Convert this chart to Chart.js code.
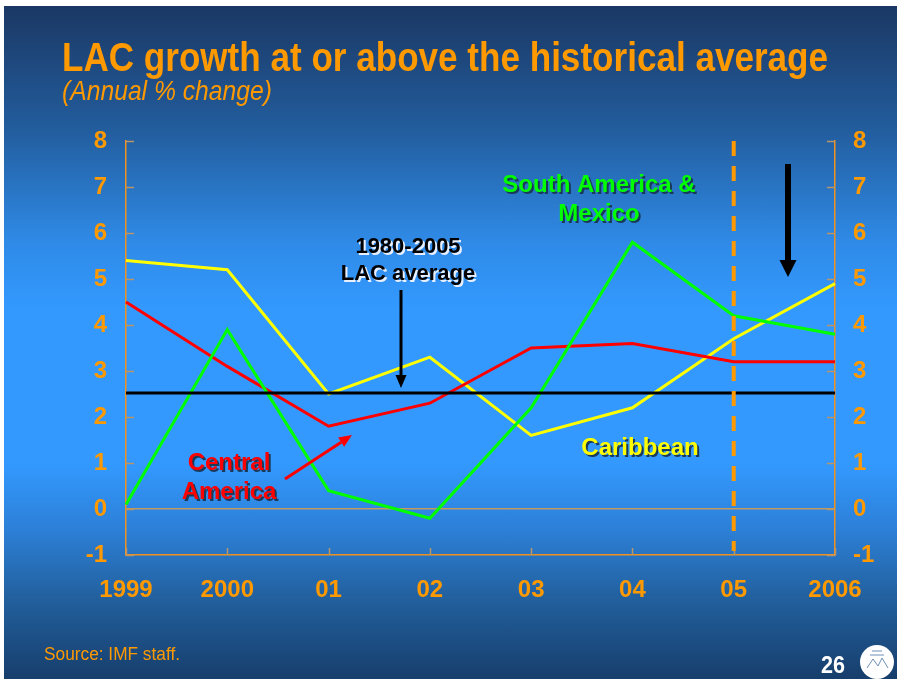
<!DOCTYPE html>
<html>
<head>
<meta charset="utf-8">
<script src="https://cdn.jsdelivr.net/npm/chart.js@4.4.1/dist/chart.umd.min.js"></script>
<style>
  html, body { margin: 0; padding: 0; background: #ffffff; }
  #slide {
    position: absolute; left: 4px; top: 6px; width: 893px; height: 673px;
    background: linear-gradient(to bottom,
      #1b3864 0%, #225c9c 18%, #2f8ae6 35%, #3399ff 45%,
      #3399ff 68%, #2c7fd6 78%, #22609e 88%, #173e6c 100%);
  }
  #wrap { position: absolute; left: 0; top: 0; width: 897px; height: 679px; }
</style>
</head>
<body>
<div id="slide"></div>
<div id="wrap"><canvas id="growthCanvas" width="897" height="679"></canvas></div>
<script>
// Annual % change by region
const years = ['1999', '2000', '01', '02', '03', '04', '05', '2006'];
const caribbean = [5.4, 5.2, 2.5, 3.3, 1.6, 2.2, 3.7, 4.9];
const centralAmerica = [4.5, 3.1, 1.8, 2.3, 3.5, 3.6, 3.2, 3.2];
const southAmericaMexico = [0.1, 3.9, 0.4, -0.2, 2.2, 5.8, 4.2, 3.8];
const lacAverage = [2.52, 2.52, 2.52, 2.52, 2.52, 2.52, 2.52, 2.52];
const yMin = -1;
const yMax = 8;
const forecastStart = '05';

const orange = '#ff9900';
const axisOrange = '#f0921e';
const tickColor = '#b9956a';
const sans = '"Liberation Sans", Arial, sans-serif';
const tickFont = { family: sans, size: 24, weight: 'bold' };

function drawArrow(ctx, x1, y1, x2, y2, color, width, headLen, headWidth) {
    const ang = Math.atan2(y2 - y1, x2 - x1);
    const bx = x2 - Math.cos(ang) * headLen;
    const by = y2 - Math.sin(ang) * headLen;
    ctx.save();
    ctx.strokeStyle = color;
    ctx.fillStyle = color;
    ctx.lineWidth = width;
    ctx.beginPath();
    ctx.moveTo(x1, y1);
    ctx.lineTo(bx, by);
    ctx.stroke();
    const nx = -Math.sin(ang) * headWidth / 2;
    const ny = Math.cos(ang) * headWidth / 2;
    ctx.beginPath();
    ctx.moveTo(x2, y2);
    ctx.lineTo(bx + nx, by + ny);
    ctx.lineTo(bx - nx, by - ny);
    ctx.closePath();
    ctx.fill();
    ctx.restore();
}

function drawLabel(ctx, lines, x, y, lineHeight, color, shadow, size) {
    ctx.save();
    ctx.font = 'bold ' + size + 'px ' + sans;
    ctx.textAlign = 'center';
    ctx.textBaseline = 'middle';
    lines.forEach((t, i) => {
        ctx.fillStyle = shadow;
        ctx.fillText(t, x + 2, y + i * lineHeight + 2);
        ctx.fillStyle = color;
        ctx.fillText(t, x, y + i * lineHeight);
    });
    ctx.restore();
}

// condensed text: squeeze a regular face horizontally to the given width
function fillCondensed(ctx, text, x, y, width, font) {
    ctx.save();
    ctx.font = font;
    const w = ctx.measureText(text).width;
    ctx.translate(x, y);
    ctx.scale(width / w, 1);
    ctx.fillText(text, 0, 0);
    ctx.restore();
}

// Slide text, inward tick marks, forecast divider and callouts
const slidePlugin = {
    id: 'slideDecor',
    beforeDatasetsDraw(chart) {
        const ctx = chart.ctx;
        const area = chart.chartArea;
        const x = chart.scales.x, y = chart.scales.y;
        ctx.save();
        ctx.strokeStyle = tickColor;
        ctx.lineWidth = 1.5;
        for (let v = yMin; v <= yMax; v++) {
            const py = Math.round(y.getPixelForValue(v)) + 0.5;
            ctx.beginPath();
            ctx.moveTo(area.left, py); ctx.lineTo(area.left + 8, py);
            ctx.moveTo(area.right, py); ctx.lineTo(area.right - 8, py);
            ctx.stroke();
        }
        years.forEach((yr, i) => {
            const px = Math.round(x.getPixelForValue(i)) + 0.5;
            ctx.beginPath();
            ctx.moveTo(px, area.bottom); ctx.lineTo(px, area.bottom - 7);
            ctx.stroke();
        });
        ctx.restore();
    },
    afterDatasetsDraw(chart) {
        const ctx = chart.ctx;
        const area = chart.chartArea;
        const x = chart.scales.x;

        // forecast divider
        const fx = x.getPixelForValue(years.indexOf(forecastStart));
        ctx.save();
        ctx.strokeStyle = orange;
        ctx.lineWidth = 4;
        ctx.setLineDash([15, 10]);
        ctx.beginPath();
        ctx.moveTo(fx, area.top);
        ctx.lineTo(fx, area.bottom - 4);
        ctx.stroke();
        ctx.restore();

        // callouts
        drawArrow(ctx, 401, 290, 401, 388, '#000000', 3, 13, 11);
        drawArrow(ctx, 788, 164, 788, 277, '#000000', 6, 17, 17);
        drawArrow(ctx, 285, 479, 352, 435, '#ff0000', 3, 13, 11);

        drawLabel(ctx, ['1980-2005', 'LAC average'], 408, 247, 27, '#000000', '#e8f0ff', 22);
        drawLabel(ctx, ['South America &', 'Mexico'], 599, 185, 29, '#00ff00', '#1a3a5a', 24);
        drawLabel(ctx, ['Central', 'America'], 229, 463, 29, '#ff0000', '#1a3a5a', 24);
        drawLabel(ctx, ['Caribbean'], 640, 448, 29, '#ffff00', '#1a3a5a', 24);
    },
    afterDraw(chart) {
        const ctx = chart.ctx;
        ctx.save();
        ctx.fillStyle = orange;
        ctx.textAlign = 'left';
        ctx.textBaseline = 'alphabetic';
        fillCondensed(ctx, 'LAC growth at or above the historical average', 62, 71, 766, 'bold 40px ' + sans);
        fillCondensed(ctx, '(Annual % change)', 62, 100, 210, 'italic 28px ' + sans);
        fillCondensed(ctx, 'Source: IMF staff.', 44, 660, 136, '19px ' + sans);

        ctx.fillStyle = '#ffffff';
        fillCondensed(ctx, '26', 821, 673, 24, 'bold 24px ' + sans);

        // seal
        ctx.beginPath();
        ctx.arc(877, 662, 17, 0, Math.PI * 2);
        ctx.fill();
        ctx.strokeStyle = '#6f8fb8';
        ctx.lineWidth = 1;
        ctx.beginPath();
        ctx.moveTo(867, 668); ctx.lineTo(873, 659); ctx.lineTo(878, 666);
        ctx.lineTo(882, 658); ctx.lineTo(888, 668);
        ctx.moveTo(872, 651); ctx.lineTo(882, 651);
        ctx.moveTo(870, 655); ctx.lineTo(884, 655);
        ctx.stroke();
        ctx.restore();
    }
};

function lineSet(label, data, color, order) {
    return {
        label: label,
        data: data,
        borderColor: color,
        borderWidth: 3,
        pointRadius: 0,
        tension: 0,
        fill: false,
        order: order
    };
}

const ctx = document.getElementById('growthCanvas').getContext('2d');
const growthChart = new Chart(ctx, {
    type: 'line',
    data: {
        labels: years,
        datasets: [
            lineSet('1980-2005 LAC average', lacAverage, '#000000', 0),
            lineSet('Caribbean', caribbean, '#ffff00', 3),
            lineSet('Central America', centralAmerica, '#ff0000', 2),
            lineSet('South America & Mexico', southAmericaMexico, '#00ff00', 1)
        ]
    },
    options: {
        responsive: false,
        animation: false,
        layout: { padding: { top: 141, left: 0, right: 0, bottom: 0 } },
        plugins: {
            legend: { display: false },
            tooltip: { enabled: false }
        },
        scales: {
            x: {
                type: 'category',
                offset: false,
                grid: { display: false, drawTicks: false },
                border: { color: axisOrange, width: 1.5 },
                ticks: { color: orange, font: tickFont, padding: 21, maxRotation: 0, autoSkip: false },
                afterFit: s => { s.height = 124; }
            },
            y: {
                position: 'left',
                min: yMin,
                max: yMax,
                grid: {
                    drawTicks: false,
                    lineWidth: 1.5,
                    color: c => (c.tick && c.tick.value === 0) ? '#c49a5e' : 'rgba(0,0,0,0)'
                },
                border: { color: axisOrange, width: 1.5 },
                ticks: { stepSize: 1, color: orange, font: tickFont, padding: 19 },
                afterFit: s => { s.width = 126; }
            },
            y2: {
                position: 'right',
                min: yMin,
                max: yMax,
                grid: { display: false, drawTicks: false },
                border: { color: axisOrange, width: 1.5 },
                ticks: { stepSize: 1, color: orange, font: tickFont, padding: 18 },
                afterFit: s => { s.width = 62; }
            }
        }
    },
    plugins: [slidePlugin]
});
</script>
</body>
</html>
